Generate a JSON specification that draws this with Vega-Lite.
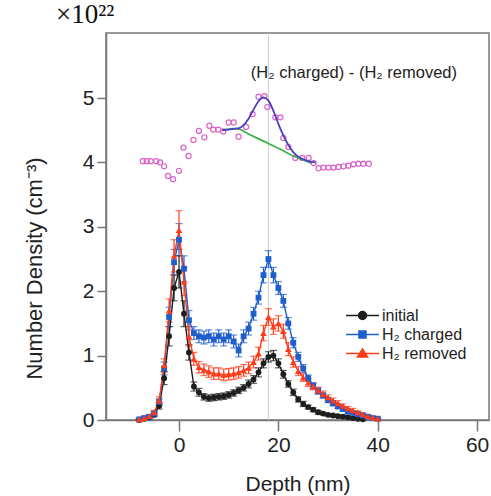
{
  "$schema": "https://vega.github.io/schema/vega-lite/v6.json",
  "autosize": {"type": "none"},
  "padding": {"left": 106, "top": 33, "right": 2, "bottom": 76},
  "width": 383,
  "height": 387,
  "background": "white",
  "title": {"text": "×10²²", "anchor": "start", "frame": "group", "dx": -50, "offset": 4, "fontSize": 27, "font": "Liberation Serif", "fontWeight": "normal", "color": "#111"},
  "config": {
    "view": {"stroke": "#777", "strokeWidth": 1.5},
    "axis": {"grid": false, "domainColor": "#777", "domainWidth": 1.5, "tickColor": "#777", "tickWidth": 1.5, "labelFont": "Liberation Sans", "labelFontSize": 21, "labelColor": "#222", "titleFont": "Liberation Sans", "titleFontWeight": "normal", "titleColor": "#222"},
    "legend": {"symbolOpacity": 1}
  },
  "datasets": {
    "main": [
      {"s":"initial","x":-8,"v":0.0,"e":0.01},{"s":"initial","x":-7,"v":0.02,"e":0.01},{"s":"initial","x":-6,"v":0.04,"e":0.02},{"s":"initial","x":-5,"v":0.08,"e":0.03},{"s":"initial","x":-4,"v":0.22,"e":0.05},{"s":"initial","x":-3,"v":0.65,"e":0.1},{"s":"initial","x":-2,"v":1.3,"e":0.15},{"s":"initial","x":-1,"v":2.05,"e":0.2},{"s":"initial","x":0,"v":2.3,"e":0.25},{"s":"initial","x":1,"v":1.65,"e":0.2},{"s":"initial","x":2,"v":1.05,"e":0.12},{"s":"initial","x":3,"v":0.52,"e":0.07},{"s":"initial","x":4,"v":0.43,"e":0.06},{"s":"initial","x":5,"v":0.36,"e":0.05},{"s":"initial","x":6,"v":0.34,"e":0.05},{"s":"initial","x":7,"v":0.35,"e":0.05},{"s":"initial","x":8,"v":0.36,"e":0.05},{"s":"initial","x":9,"v":0.37,"e":0.05},{"s":"initial","x":10,"v":0.39,"e":0.05},{"s":"initial","x":11,"v":0.42,"e":0.05},{"s":"initial","x":12,"v":0.46,"e":0.05},{"s":"initial","x":13,"v":0.5,"e":0.05},{"s":"initial","x":14,"v":0.56,"e":0.06},{"s":"initial","x":15,"v":0.63,"e":0.06},{"s":"initial","x":16,"v":0.74,"e":0.07},{"s":"initial","x":17,"v":0.88,"e":0.07},{"s":"initial","x":18,"v":0.98,"e":0.08},{"s":"initial","x":19,"v":1.0,"e":0.08},{"s":"initial","x":20,"v":0.88,"e":0.07},{"s":"initial","x":21,"v":0.71,"e":0.06},{"s":"initial","x":22,"v":0.56,"e":0.05},{"s":"initial","x":23,"v":0.43,"e":0.05},{"s":"initial","x":24,"v":0.32,"e":0.04},{"s":"initial","x":25,"v":0.25,"e":0.04},{"s":"initial","x":26,"v":0.2,"e":0.03},{"s":"initial","x":27,"v":0.16,"e":0.03},{"s":"initial","x":28,"v":0.12,"e":0.03},{"s":"initial","x":29,"v":0.1,"e":0.02},{"s":"initial","x":30,"v":0.08,"e":0.02},{"s":"initial","x":31,"v":0.07,"e":0.02},{"s":"initial","x":32,"v":0.06,"e":0.02},{"s":"initial","x":33,"v":0.05,"e":0.02},{"s":"initial","x":34,"v":0.04,"e":0.01},{"s":"initial","x":35,"v":0.03,"e":0.01},{"s":"initial","x":36,"v":0.02,"e":0.01},{"s":"initial","x":37,"v":0.01,"e":0.01},
      {"s":"H₂ charged","x":-8,"v":0.01,"e":0.01},{"s":"H₂ charged","x":-7,"v":0.03,"e":0.01},{"s":"H₂ charged","x":-6,"v":0.05,"e":0.02},{"s":"H₂ charged","x":-5,"v":0.1,"e":0.03},{"s":"H₂ charged","x":-4,"v":0.28,"e":0.05},{"s":"H₂ charged","x":-3,"v":0.8,"e":0.1},{"s":"H₂ charged","x":-2,"v":1.6,"e":0.15},{"s":"H₂ charged","x":-1,"v":2.45,"e":0.2},{"s":"H₂ charged","x":0,"v":2.8,"e":0.25},{"s":"H₂ charged","x":1,"v":2.35,"e":0.2},{"s":"H₂ charged","x":2,"v":1.55,"e":0.15},{"s":"H₂ charged","x":3,"v":1.35,"e":0.1},{"s":"H₂ charged","x":4,"v":1.3,"e":0.1},{"s":"H₂ charged","x":5,"v":1.28,"e":0.1},{"s":"H₂ charged","x":6,"v":1.3,"e":0.1},{"s":"H₂ charged","x":7,"v":1.25,"e":0.1},{"s":"H₂ charged","x":8,"v":1.3,"e":0.1},{"s":"H₂ charged","x":9,"v":1.25,"e":0.1},{"s":"H₂ charged","x":10,"v":1.3,"e":0.1},{"s":"H₂ charged","x":11,"v":1.22,"e":0.1},{"s":"H₂ charged","x":12,"v":1.08,"e":0.1},{"s":"H₂ charged","x":13,"v":1.3,"e":0.1},{"s":"H₂ charged","x":14,"v":1.42,"e":0.1},{"s":"H₂ charged","x":15,"v":1.65,"e":0.1},{"s":"H₂ charged","x":16,"v":1.9,"e":0.1},{"s":"H₂ charged","x":17,"v":2.25,"e":0.12},{"s":"H₂ charged","x":18,"v":2.5,"e":0.13},{"s":"H₂ charged","x":19,"v":2.25,"e":0.12},{"s":"H₂ charged","x":20,"v":2.05,"e":0.1},{"s":"H₂ charged","x":21,"v":1.85,"e":0.1},{"s":"H₂ charged","x":22,"v":1.5,"e":0.09},{"s":"H₂ charged","x":23,"v":1.2,"e":0.08},{"s":"H₂ charged","x":24,"v":0.98,"e":0.07},{"s":"H₂ charged","x":25,"v":0.8,"e":0.06},{"s":"H₂ charged","x":26,"v":0.65,"e":0.05},{"s":"H₂ charged","x":27,"v":0.53,"e":0.05},{"s":"H₂ charged","x":28,"v":0.45,"e":0.05},{"s":"H₂ charged","x":29,"v":0.38,"e":0.04},{"s":"H₂ charged","x":30,"v":0.31,"e":0.04},{"s":"H₂ charged","x":31,"v":0.26,"e":0.04},{"s":"H₂ charged","x":32,"v":0.21,"e":0.03},{"s":"H₂ charged","x":33,"v":0.17,"e":0.03},{"s":"H₂ charged","x":34,"v":0.13,"e":0.03},{"s":"H₂ charged","x":35,"v":0.11,"e":0.02},{"s":"H₂ charged","x":36,"v":0.09,"e":0.02},{"s":"H₂ charged","x":37,"v":0.07,"e":0.02},{"s":"H₂ charged","x":38,"v":0.05,"e":0.02},{"s":"H₂ charged","x":39,"v":0.03,"e":0.01},{"s":"H₂ charged","x":40,"v":0.02,"e":0.01},
      {"s":"H₂ removed","x":-8,"v":0.01,"e":0.01},{"s":"H₂ removed","x":-7,"v":0.03,"e":0.02},{"s":"H₂ removed","x":-6,"v":0.06,"e":0.02},{"s":"H₂ removed","x":-5,"v":0.12,"e":0.03},{"s":"H₂ removed","x":-4,"v":0.3,"e":0.06},{"s":"H₂ removed","x":-3,"v":0.85,"e":0.1},{"s":"H₂ removed","x":-2,"v":1.7,"e":0.18},{"s":"H₂ removed","x":-1,"v":2.55,"e":0.25},{"s":"H₂ removed","x":0,"v":2.95,"e":0.3},{"s":"H₂ removed","x":1,"v":2.15,"e":0.22},{"s":"H₂ removed","x":2,"v":1.3,"e":0.15},{"s":"H₂ removed","x":3,"v":0.95,"e":0.1},{"s":"H₂ removed","x":4,"v":0.82,"e":0.09},{"s":"H₂ removed","x":5,"v":0.78,"e":0.09},{"s":"H₂ removed","x":6,"v":0.75,"e":0.09},{"s":"H₂ removed","x":7,"v":0.72,"e":0.09},{"s":"H₂ removed","x":8,"v":0.72,"e":0.09},{"s":"H₂ removed","x":9,"v":0.7,"e":0.09},{"s":"H₂ removed","x":10,"v":0.71,"e":0.09},{"s":"H₂ removed","x":11,"v":0.72,"e":0.09},{"s":"H₂ removed","x":12,"v":0.74,"e":0.09},{"s":"H₂ removed","x":13,"v":0.77,"e":0.09},{"s":"H₂ removed","x":14,"v":0.81,"e":0.09},{"s":"H₂ removed","x":15,"v":0.9,"e":0.09},{"s":"H₂ removed","x":16,"v":1.03,"e":0.1},{"s":"H₂ removed","x":17,"v":1.35,"e":0.12},{"s":"H₂ removed","x":18,"v":1.6,"e":0.13},{"s":"H₂ removed","x":19,"v":1.45,"e":0.12},{"s":"H₂ removed","x":20,"v":1.5,"e":0.12},{"s":"H₂ removed","x":21,"v":1.38,"e":0.11},{"s":"H₂ removed","x":22,"v":1.1,"e":0.1},{"s":"H₂ removed","x":23,"v":0.9,"e":0.08},{"s":"H₂ removed","x":24,"v":0.76,"e":0.07},{"s":"H₂ removed","x":25,"v":0.66,"e":0.06},{"s":"H₂ removed","x":26,"v":0.58,"e":0.06},{"s":"H₂ removed","x":27,"v":0.52,"e":0.05},{"s":"H₂ removed","x":28,"v":0.46,"e":0.05},{"s":"H₂ removed","x":29,"v":0.4,"e":0.05},{"s":"H₂ removed","x":30,"v":0.35,"e":0.04},{"s":"H₂ removed","x":31,"v":0.3,"e":0.04},{"s":"H₂ removed","x":32,"v":0.26,"e":0.04},{"s":"H₂ removed","x":33,"v":0.22,"e":0.03},{"s":"H₂ removed","x":34,"v":0.18,"e":0.03},{"s":"H₂ removed","x":35,"v":0.15,"e":0.03},{"s":"H₂ removed","x":36,"v":0.12,"e":0.02},{"s":"H₂ removed","x":37,"v":0.09,"e":0.02},{"s":"H₂ removed","x":38,"v":0.06,"e":0.02},{"s":"H₂ removed","x":39,"v":0.04,"e":0.01},{"s":"H₂ removed","x":40,"v":0.02,"e":0.01}
    ],
    "diff": [
      {"x":-7.3,"v":4.02},{"x":-6.5,"v":4.02},{"x":-5.7,"v":4.02},{"x":-4.6,"v":4.02},{"x":-3.8,"v":4.0},{"x":-3.0,"v":3.94},{"x":-2.2,"v":3.79},{"x":-1.2,"v":3.74},{"x":0.0,"v":3.87},{"x":0.9,"v":4.23},{"x":1.9,"v":4.1},{"x":2.9,"v":4.35},{"x":4.0,"v":4.49},{"x":5.1,"v":4.39},{"x":6.1,"v":4.57},{"x":6.9,"v":4.51},{"x":7.9,"v":4.51},{"x":8.9,"v":4.48},{"x":10.0,"v":4.62},{"x":11.0,"v":4.62},{"x":12.0,"v":4.4},{"x":13.5,"v":4.55},{"x":14.8,"v":4.75},{"x":16.0,"v":5.02},{"x":17.2,"v":5.03},{"x":17.8,"v":4.86},{"x":19.4,"v":4.7},{"x":20.4,"v":4.7},{"x":21.0,"v":4.38},{"x":22.0,"v":4.24},{"x":23.4,"v":4.07},{"x":24.8,"v":4.07},{"x":26.1,"v":4.07},{"x":27.1,"v":3.99},{"x":28.1,"v":3.91},{"x":29.1,"v":3.92},{"x":30.1,"v":3.92},{"x":31.1,"v":3.92},{"x":32.1,"v":3.93},{"x":33.1,"v":3.94},{"x":34.1,"v":3.95},{"x":35.1,"v":3.97},{"x":36.1,"v":3.98},{"x":37.1,"v":3.98},{"x":38.2,"v":3.98}
    ],
    "fit": [
      {"x":8.7,"v":4.5},{"x":10,"v":4.51},{"x":11,"v":4.52},{"x":12,"v":4.53},{"x":13,"v":4.58},{"x":14,"v":4.68},{"x":15,"v":4.82},{"x":16,"v":4.95},{"x":17,"v":5.01},{"x":18,"v":4.96},{"x":19,"v":4.8},{"x":20,"v":4.6},{"x":21,"v":4.42},{"x":22,"v":4.27},{"x":23,"v":4.16},{"x":24,"v":4.09},{"x":25,"v":4.05},{"x":26,"v":4.02},{"x":27.5,"v":4.0}
    ],
    "base": [
      {"x":8.7,"v":4.5},{"x":11.5,"v":4.53},{"x":14.3,"v":4.43},{"x":17,"v":4.33},{"x":20,"v":4.22},{"x":23,"v":4.1},{"x":26.7,"v":3.99}
    ],
    "notes": [
      {"x":35.2,"v":5.39,"t":"(H₂ charged) - (H₂ removed)"}
    ],
    "marker": [{"x":18}]
  },
  "layer": [
    {
      "data": {"name": "marker"},
      "mark": {"type": "rule", "color": "#cfcfcf", "strokeWidth": 1},
      "encoding": {"x": {"field": "x", "type": "quantitative", "title": "Depth (nm)", "scale": {"domain": [-14.7, 62.4], "nice": false, "zero": false}}}
    },
    {
      "data": {"name": "diff"},
      "mark": {"type": "point", "filled": false, "shape": "circle", "size": 26, "stroke": "#dc62c8", "strokeWidth": 1.2, "opacity": 1},
      "encoding": {
        "x": {"field": "x", "type": "quantitative", "title": "Depth (nm)"},
        "y": {"field": "v", "type": "quantitative", "title": "Number Density (cm⁻³)"}
      }
    },
    {
      "data": {"name": "base"},
      "mark": {"type": "line", "color": "#3cb44a", "strokeWidth": 1.8, "interpolate": "monotone"},
      "encoding": {
        "x": {"field": "x", "type": "quantitative", "title": "Depth (nm)"},
        "y": {"field": "v", "type": "quantitative", "title": "Number Density (cm⁻³)"}
      }
    },
    {
      "data": {"name": "fit"},
      "mark": {"type": "line", "color": "#4b3fc4", "strokeWidth": 1.8, "interpolate": "monotone"},
      "encoding": {
        "x": {"field": "x", "type": "quantitative", "title": "Depth (nm)"},
        "y": {"field": "v", "type": "quantitative", "title": "Number Density (cm⁻³)"}
      }
    },
    {
      "data": {"name": "notes"},
      "mark": {"type": "text", "font": "Liberation Sans", "fontSize": 16.5, "color": "#222", "align": "center", "baseline": "middle"},
      "encoding": {
        "x": {"field": "x", "type": "quantitative", "title": "Depth (nm)"},
        "y": {"field": "v", "type": "quantitative", "title": "Number Density (cm⁻³)"},
        "text": {"field": "t"}
      }
    },
    {
      "data": {"name": "main"},
      "mark": {"type": "errorbar", "ticks": {"size": 7}, "thickness": 1.2},
      "encoding": {
        "x": {"field": "x", "type": "quantitative", "title": "Depth (nm)"},
        "y": {"field": "v", "type": "quantitative", "title": "Number Density (cm⁻³)"},
        "yError": {"field": "e"},
        "color": {
          "field": "s", "type": "nominal",
          "scale": {"domain": ["initial", "H₂ charged", "H₂ removed"], "range": ["#1e1e1e", "#1f5fcc", "#ff3b1a"]},
          "legend": {
            "orient": "none", "legendX": 248, "legendY": 274, "title": null,
            "labelFont": "Liberation Sans", "labelFontSize": 16, "labelColor": "#222", "labelOffset": 11,
            "symbolSize": 225, "symbolOpacity": 1, "rowPadding": 2,
            "encode": {"symbols": {"update": {
              "shape": {"signal": "datum.value === 'initial' ? 'M-2.2,0H2.2M0.53,0A0.53,0.53 0 1 1 -0.53,0A0.53,0.53 0 1 1 0.53,0Z' : (indexof(datum.value, 'charged') >= 0 ? 'M-2.2,0H2.2M-0.47,-0.47H0.47V0.47H-0.47Z' : 'M-2.2,0H2.2M0,-0.62L0.68,0.45H-0.68Z')"},
              "fill": {"scale": "color", "field": "value"},
              "stroke": {"scale": "color", "field": "value"},
              "strokeWidth": {"value": 1.5},
              "opacity": {"value": 1}
            }}}
          }
        }
      }
    },
    {
      "data": {"name": "main"},
      "mark": {"type": "line", "strokeWidth": 1.4},
      "encoding": {
        "x": {"field": "x", "type": "quantitative", "title": "Depth (nm)"},
        "y": {"field": "v", "type": "quantitative", "title": "Number Density (cm⁻³)"},
        "color": {"field": "s", "type": "nominal"}
      }
    },
    {
      "data": {"name": "main"},
      "transform": [{"filter": {"field": "s", "equal": "initial"}}],
      "mark": {"type": "point", "filled": true, "opacity": 1, "size": 34, "shape": "circle"},
      "encoding": {
        "x": {"field": "x", "type": "quantitative", "title": "Depth (nm)"},
        "y": {"field": "v", "type": "quantitative", "title": "Number Density (cm⁻³)"},
        "color": {"field": "s", "type": "nominal"}
      }
    },
    {
      "data": {"name": "main"},
      "transform": [{"filter": {"field": "s", "equal": "H₂ charged"}}],
      "mark": {"type": "point", "filled": true, "opacity": 1, "size": 34, "shape": "square"},
      "encoding": {
        "x": {"field": "x", "type": "quantitative", "title": "Depth (nm)"},
        "y": {"field": "v", "type": "quantitative", "title": "Number Density (cm⁻³)"},
        "color": {"field": "s", "type": "nominal"}
      }
    },
    {
      "data": {"name": "main"},
      "transform": [{"filter": {"field": "s", "equal": "H₂ removed"}}],
      "mark": {"type": "point", "filled": true, "opacity": 1, "size": 45, "shape": "triangle-up"},
      "encoding": {
        "x": {"field": "x", "type": "quantitative", "title": "Depth (nm)", "axis": {"values": [0, 20, 40, 60], "tickSize": 11, "labelPadding": 3, "titleFontSize": 21, "titlePadding": 18}},
        "y": {"field": "v", "type": "quantitative", "scale": {"domain": [0, 6.01], "nice": false}, "title": "Number Density (cm⁻³)", "axis": {"values": [0, 1, 2, 3, 4, 5], "format": "d", "tickSize": 9, "labelPadding": 3, "titleFontSize": 22, "titleY": 235, "titleX": -60, "titleAnchor": "middle"}},
        "color": {"field": "s", "type": "nominal"}
      }
    }
  ]
}
